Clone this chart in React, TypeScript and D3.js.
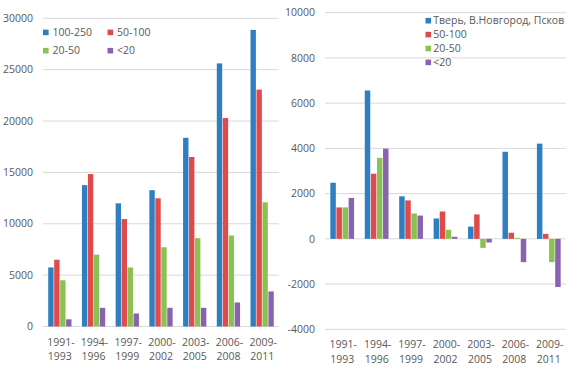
import React from "react";
import * as d3 from "d3";

const categories = ["1991-1993", "1994-1996", "1997-1999", "2000-2002", "2003-2005", "2006-2008", "2009-2011"];
const leftSeriesNames = ["100-250", "50-100", "20-50", "<20"];
const rightSeriesNames = ["Тверь, В.Новгород, Псков", "50-100", "20-50", "<20"];
const colors = ["#2E7EC1", "#E04A4A", "#8BC152", "#8A63AE"];

const left100_250 = [5750, 13760, 11990, 13270, 18370, 25610, 28870];
const left50_100 = [6500, 14840, 10460, 12480, 16500, 20290, 23060];
const left20_50 = [4500, 6990, 5750, 7710, 8600, 8860, 12090];
const leftUnder20 = [700, 1820, 1270, 1820, 1820, 2340, 3410];

const rightTver = [2480, 6560, 1880, 900, 540, 3850, 4210];
const right50_100 = [1390, 2880, 1700, 1210, 1080, 270, 220];
const right20_50 = [1390, 3580, 1120, 400, -400, 45, -1030];
const rightUnder20 = [1810, 3990, 1030, 90, -160, -1030, -2130];

const leftTicks = [0, 5000, 10000, 15000, 20000, 25000, 30000];
const rightTicks = [-4000, -2000, 0, 2000, 4000, 6000, 8000, 10000];

const FONT = "'Open Sans', sans-serif";
const TEXT = "#595959";
const GRID = "#D9D9D9";

type PanelProps = {
  x0: number;
  x1: number;
  yTop: number;
  yBottom: number;
  domain: [number, number];
  ticks: number[];
  series: number[][];
  labelY: number;
};

function Panel({ x0, x1, yTop, yBottom, domain, ticks, series, labelY }: PanelProps) {
  const xs = d3.scaleBand<string>().domain(categories).range([x0, x1]).paddingInner(0.31).paddingOuter(0.155);
  const xi = d3.scaleBand<number>().domain([0, 1, 2, 3]).range([0, xs.bandwidth()]).paddingInner(0.1);
  const y = d3.scaleLinear().domain(domain).range([yBottom, yTop]);
  const step = xs.step();
  return (
    <g>
      {ticks.map((t) => (
        <g key={t}>
          <line x1={x0} x2={x1} y1={y(t)} y2={y(t)} stroke={GRID} strokeWidth={1} />
          <text x={x0 - 10} y={y(t)} dy="0.35em" textAnchor="end" fontSize={10.5} fill={TEXT} fontFamily={FONT}>
            {t}
          </text>
        </g>
      ))}
      {series.map((vals, si) =>
        vals.map((v, ci) => {
          const bx = (xs(categories[ci]) as number) + (xi(si) as number);
          const yv = y(v);
          const y0 = y(0);
          return (
            <rect
              key={si + "-" + ci}
              x={bx}
              width={xi.bandwidth()}
              y={Math.min(yv, y0)}
              height={Math.abs(y0 - yv)}
              fill={colors[si]}
            />
          );
        })
      )}
      {categories.map((c, ci) => {
        const cx = x0 + step * ci + step / 2;
        const [a, b] = c.split("-");
        return (
          <text key={c} x={cx} y={labelY} textAnchor="middle" fontSize={10.5} fill={TEXT} fontFamily={FONT}>
            <tspan x={cx + 1} dy="0">{a + "-"}</tspan>
            <tspan x={cx} dy="14.5">{b}</tspan>
          </text>
        );
      })}
    </g>
  );
}

export default function App() {
  return (
    <svg width={568} height={372} style={{ position: "absolute", left: 0, top: 0, background: "#fff" }}>
      <rect width={568} height={372} fill="#fff" />
      <Panel
        x0={43}
        x1={279}
        yTop={18.3}
        yBottom={326.5}
        domain={[0, 30000]}
        ticks={leftTicks}
        series={[left100_250, left50_100, left20_50, leftUnder20]}
        labelY={345.5}
      />
      <Panel
        x0={325}
        x1={566}
        yTop={12.7}
        yBottom={329.3}
        domain={[-4000, 10000]}
        ticks={rightTicks}
        series={[rightTver, right50_100, right20_50, rightUnder20]}
        labelY={348}
      />
      {leftSeriesNames.map((n, i) => {
        const lx = i % 2 === 0 ? 43 : 107.5;
        const ly = i < 2 ? 32.4 : 50.7;
        return (
          <g key={"ll" + i}>
            <rect x={lx} y={ly - 2.8} width={5.6} height={5.6} fill={colors[i]} />
            <text x={lx + 9.5} y={ly} dy="0.35em" fontSize={10.5} fill={TEXT} fontFamily={FONT}>
              {n}
            </text>
          </g>
        );
      })}
      {rightSeriesNames.map((n, i) => {
        const lx = 425.5;
        const ly = 20.7 + i * 13.9;
        return (
          <g key={"rl" + i}>
            <rect x={lx} y={ly - 2.8} width={5.6} height={5.6} fill={colors[i]} />
            <text x={lx + 7.8} y={ly} dy="0.35em" fontSize={10.5} fill={TEXT} fontFamily={FONT}>
              {n}
            </text>
          </g>
        );
      })}
    </svg>
  );
}
